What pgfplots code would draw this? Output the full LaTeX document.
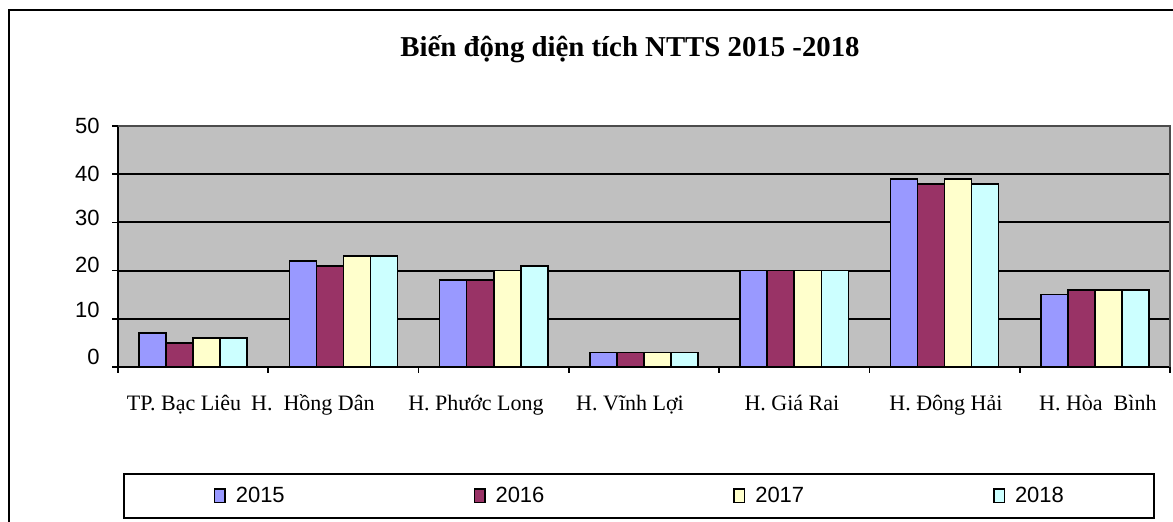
\documentclass[border=0pt]{standalone}
\usepackage{pgfplots}
\pgfplotsset{compat=1.18}
\usepackage{fontspec}
\setmainfont{Liberation Serif}
\newfontfamily\arial{Liberation Sans}
\definecolor{c2015}{HTML}{9999FF}
\definecolor{c2016}{HTML}{993366}
\definecolor{c2017}{HTML}{FFFFCC}
\definecolor{c2018}{HTML}{CCFFFF}
\definecolor{cbg}{HTML}{C0C0C0}
\pgfplotsset{mybar/.style={ybar, bar width=0.18, draw=black, line width=0.8pt,
  legend image code/.code={\draw[##1,line width=0.7pt] (0pt,-3.4pt) rectangle (5.2pt,3.4pt);}}}
\begin{document}
\begin{tikzpicture}
\useasboundingbox (0,0) rectangle (586.5pt,261pt);
\begin{scope}
\clip (0,0) rectangle (586.5pt,261pt);
\draw[line width=1pt] (4.5pt,-10pt) -- (4.5pt,256pt) -- (600pt,256pt);
\end{scope}
\node[font=\bfseries\fontsize{14.4}{17}\selectfont] at (315pt,236.5pt) {Biến động diện tích NTTS 2015 -2018};
\begin{axis}[name=ax, at={(59pt,77.5pt)}, anchor=south west, scale only axis,
  width=526pt, height=120.5pt,
  xmin=-0.5, xmax=6.5, ymin=0, ymax=50,
  axis background/.style={fill=cbg},
  axis x line*=bottom, axis y line*=left,
  axis line style={line width=1pt, black},
  tick align=outside,
  major tick length=0pt,
  tick style={black, line width=0.8pt},
  major grid style={black, line width=1pt},
  ytick={2.07,11.87,21.2,30.9,40.15,50},
  yticklabels={0,10,20,30,40,50},
  yticklabel style={font=\arial\fontsize{11}{13}\selectfont, inner sep=0pt, xshift=-9pt},
  extra y ticks={0,10,20,30,40,50},
  extra y tick labels={},
  extra y tick style={major tick length=3pt, grid=major},
  xtick={-0.061,0.797,1.882,2.907,3.984,5.009,6.020},
  xticklabels={TP. Bạc Liêu, H.\ \ Hồng Dân, H.\ Phước Long, H.\ Vĩnh Lợi, H.\ Giá Rai, H.\ Đông Hải, H.\ Hòa\ \ Bình},
  xticklabel style={font=\fontsize{11}{13}\selectfont, inner sep=0pt, text height=9pt, text depth=2pt, yshift=-12.6pt},
  extra x ticks={-0.5,0.5,1.5,2.5,3.5,4.5,5.5,6.5},
  extra x tick labels={},
  extra x tick style={major tick length=3pt},
  legend columns=4,
  legend style={at={(0.00475,-0.631)}, anchor=south west, draw=black, line width=1pt,
    inner xsep=45pt, inner ysep=6.5pt, font=\arial\fontsize{11}{13}\selectfont,
    nodes={inner sep=0pt},
    /tikz/every odd column/.append style={column sep=5pt},
    /tikz/every even column/.append style={column sep=94.5pt}},
]
\addplot[mybar, fill=c2015, bar shift=-0.27] coordinates {(0,7) (1,22) (2,18) (3,3) (4,20) (5,39) (6,15)};
\addplot[mybar, fill=c2016, bar shift=-0.09] coordinates {(0,5) (1,21) (2,18) (3,3) (4,20) (5,38) (6,16)};
\addplot[mybar, fill=c2017, bar shift=0.09] coordinates {(0,6) (1,23) (2,20) (3,3) (4,20) (5,39) (6,16)};
\addplot[mybar, fill=c2018, bar shift=0.27] coordinates {(0,6) (1,23) (2,21) (3,3) (4,20) (5,38) (6,16)};
\legend{2015,2016,2017,2018}
\end{axis}
\draw[gray!60!black, line width=0.7pt] (ax.north west) -- (ax.north east) -- (ax.south east);
\end{tikzpicture}
\end{document}
